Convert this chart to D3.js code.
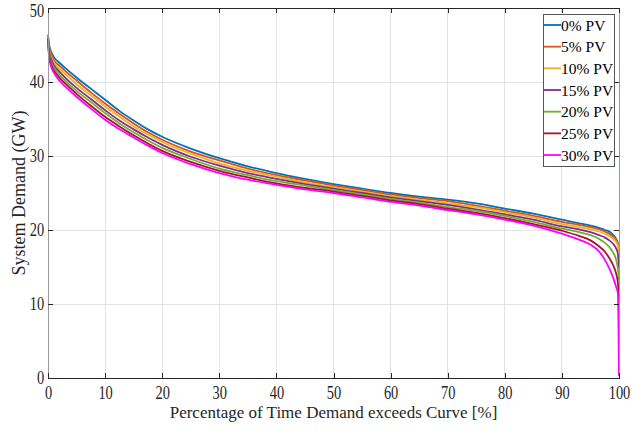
<!DOCTYPE html>
<meta charset="utf-8">
<style>
  body { margin: 0; background: #fff; }
  .axis text { font-family: "Liberation Serif", "Times New Roman", serif; font-size: 18.5px; fill: #262626; }
  .axis line { stroke: #262626; shape-rendering: crispEdges; }
  .axis path { stroke: #262626; shape-rendering: crispEdges; }
  .axis.side path { stroke: #9a9a9a; }
  .grid line { stroke: #e3e3e3; shape-rendering: crispEdges; }
  .curve { fill: none; stroke-width: 1.8; }
  .label { font-family: "Liberation Serif", "Times New Roman", serif; font-size: 17px; fill: #262626; }
  .legend text { font-family: "Liberation Serif", "Times New Roman", serif; font-size: 15.5px; fill: #000; }
</style>

<div class="chart"></div>

<script src="https://d3js.org/d3.v7.min.js"></script>

<script>
  // percentage of time (x) shared by every curve
  var pct = [0, 0.2, 0.5, 1, 2, 3, 5, 7.5, 10, 12.5, 15, 17.5, 20, 25, 30, 35, 40, 45, 50, 55, 60, 65, 70, 75, 80, 85, 90, 93, 95, 96.5, 97.5, 98.3, 99, 99.5, 99.8, 100];

  // system demand in GW
  var pv0  = [46.4, 45.0, 44.2, 43.4, 42.6, 41.9, 40.6, 39.1, 37.6, 36.1, 34.8, 33.6, 32.6, 31.0, 29.7, 28.6, 27.7, 26.9, 26.2, 25.6, 25.0, 24.5, 24.1, 23.6, 22.9, 22.2, 21.4, 20.9, 20.6, 20.3, 20.0, 19.8, 19.3, 18.8, 18.2, 17.5];
  var pv5  = [46.3, 44.7, 43.9, 43.0, 42.2, 41.5, 40.2, 38.6, 37.1, 35.7, 34.4, 33.2, 32.2, 30.6, 29.4, 28.3, 27.4, 26.7, 26.0, 25.4, 24.8, 24.3, 23.9, 23.3, 22.6, 21.9, 21.1, 20.7, 20.4, 20.1, 19.8, 19.5, 19.1, 18.7, 18.1, 17.3];
  var pv10 = [46.2, 44.4, 43.5, 42.7, 41.8, 41.1, 39.7, 38.2, 36.7, 35.3, 34.0, 32.9, 31.9, 30.3, 29.0, 28.0, 27.2, 26.4, 25.8, 25.2, 24.6, 24.1, 23.6, 23.1, 22.4, 21.7, 20.8, 20.4, 20.1, 19.8, 19.5, 19.2, 18.8, 18.4, 17.9, 17.0];
  var pv15 = [46.0, 44.1, 43.2, 42.3, 41.4, 40.6, 39.2, 37.7, 36.2, 34.8, 33.6, 32.5, 31.5, 29.9, 28.7, 27.7, 26.9, 26.2, 25.6, 25.0, 24.4, 23.9, 23.4, 22.8, 22.1, 21.4, 20.5, 20.1, 19.7, 19.3, 19.0, 18.6, 18.1, 17.5, 16.8, 14.8];
  var pv20 = [45.9, 43.8, 42.8, 42.0, 41.0, 40.2, 38.8, 37.3, 35.8, 34.4, 33.2, 32.1, 31.1, 29.6, 28.3, 27.4, 26.6, 26.0, 25.4, 24.8, 24.2, 23.7, 23.1, 22.6, 21.9, 21.1, 20.2, 19.7, 19.3, 18.8, 18.3, 17.7, 16.9, 16.0, 14.8, 13.2];
  var pv25 = [45.8, 43.6, 42.5, 41.6, 40.6, 39.8, 38.4, 36.8, 35.3, 34.0, 32.8, 31.7, 30.7, 29.2, 28.0, 27.1, 26.3, 25.7, 25.2, 24.6, 24.0, 23.5, 22.9, 22.3, 21.6, 20.8, 19.9, 19.2, 18.6, 17.8, 17.1, 16.2, 15.2, 14.1, 12.9, 11.0];
  var pv30 = [45.7, 43.3, 42.2, 41.3, 40.2, 39.4, 38.0, 36.4, 34.9, 33.6, 32.5, 31.4, 30.4, 28.9, 27.7, 26.8, 26.1, 25.5, 25.0, 24.4, 23.8, 23.3, 22.7, 22.1, 21.4, 20.6, 19.5, 18.7, 18.0, 17.1, 16.0, 14.8, 13.5, 12.3, 11.5, 0.3];

  var seriesNames  = ["0% PV", "5% PV", "10% PV", "15% PV", "20% PV", "25% PV", "30% PV"];
  var seriesValues = [pv0, pv5, pv10, pv15, pv20, pv25, pv30];
  var seriesColors = ["#0072BD", "#D95319", "#EDB120", "#7E2F8E", "#77AC30", "#A2142F", "#FF00FF"];

  var xTicks = [0, 10, 20, 30, 40, 50, 60, 70, 80, 90, 100];
  var yTicks = [0, 10, 20, 30, 40, 50];

  var margin = {top: 8, right: 23, bottom: 56, left: 48};
  var width = 642 - margin.left - margin.right,
      height = 434 - margin.top - margin.bottom;

  var x = d3.scaleLinear().domain([0, 100]).range([0, width]);
  var y = d3.scaleLinear().domain([0, 50]).range([height, 0]);

  var rootsvg = d3.select(".chart").append("svg")
      .attr("width", 642)
      .attr("height", 434);
  var svg = rootsvg.append("g")
      .attr("transform", "translate(" + margin.left + "," + margin.top + ")");

  // grid
  svg.append("g").attr("class", "grid")
    .selectAll("line.gx").data(xTicks.slice(1, -1)).enter()
    .append("line")
    .attr("x1", function(d) { return x(d); }).attr("x2", function(d) { return x(d); })
    .attr("y1", 0).attr("y2", height);
  svg.append("g").attr("class", "grid")
    .selectAll("line.gy").data(yTicks.slice(1, -1)).enter()
    .append("line")
    .attr("y1", function(d) { return y(d); }).attr("y2", function(d) { return y(d); })
    .attr("x1", 0).attr("x2", width);

  // curves
  var line = d3.line()
      .x(function(d, i) { return x(pct[i]); })
      .y(function(d) { return y(d); })
      .curve(d3.curveMonotoneX);

  svg.selectAll("path.curve")
    .data(seriesValues).enter()
    .append("path")
    .attr("class", "curve")
    .attr("stroke", function(d, i) { return seriesColors[i]; })
    .attr("d", line);

  // axes, ticks pointing inward like matlab
  var yAxisG = svg.append("g").attr("class", "axis side")
    .call(d3.axisLeft(y).tickValues(yTicks).tickSizeInner(-5).tickSizeOuter(0).tickPadding(5));
  yAxisG.selectAll("text").attr("transform", "scale(0.78,1)");
  // top label sits a bit lower so it stays inside the page
  yAxisG.selectAll(".tick").filter(function(d) { return d === 50; })
    .select("text").attr("y", 3);

  svg.append("g").attr("class", "axis side")
    .attr("transform", "translate(" + width + ",0)")
    .call(d3.axisRight(y).tickValues(yTicks).tickSizeInner(-5).tickSizeOuter(0).tickFormat(""));
  svg.append("g").attr("class", "axis")
    .attr("transform", "translate(0," + height + ")")
    .call(d3.axisBottom(x).tickValues(xTicks).tickSizeInner(-5).tickSizeOuter(0).tickPadding(8))
    .selectAll("text").attr("transform", "scale(0.78,1)");
  svg.append("g").attr("class", "axis")
    .call(d3.axisTop(x).tickValues(xTicks).tickSizeInner(-5).tickSizeOuter(0).tickFormat(""));

  // axis labels
  rootsvg.append("text").attr("class", "label")
    .attr("x", margin.left + width / 2)
    .attr("y", 418)
    .style("text-anchor", "middle")
    .text("Percentage of Time Demand exceeds Curve [%]");
  rootsvg.append("text").attr("class", "label")
    .attr("transform", "translate(25," + 193 + ") rotate(-90)")
    .style("text-anchor", "middle")
    .style("font-size", "18px")
    .text("System Demand (GW)");

  // legend
  var legends = rootsvg.append("g").attr("class", "legends legend")
    .attr("transform", "translate(543,14)");
  legends.append("rect")
    .attr("x", 0.5).attr("y", 0.5)
    .attr("width", 71).attr("height", 152)
    .attr("fill", "#fff").attr("stroke", "#555");
  var item = legends.selectAll("g.item").data(seriesNames).enter()
    .append("g").attr("class", "item")
    .attr("transform", function(d, i) { return "translate(0," + (11 + i * 21.67) + ")"; });
  item.append("line")
    .attr("x1", 1).attr("x2", 18)
    .attr("stroke", function(d, i) { return seriesColors[i]; })
    .attr("stroke-width", 1.8);
  item.append("text")
    .attr("x", 18).attr("y", 5.5)
    .text(function(d) { return d; });
</script>
